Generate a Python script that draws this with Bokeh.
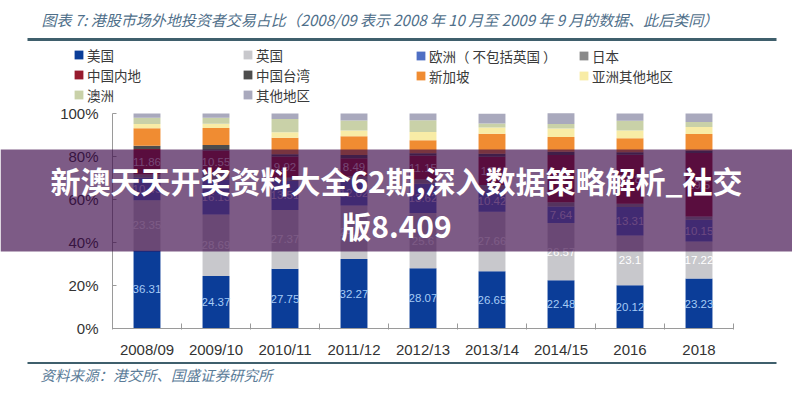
from bokeh.plotting import figure
from bokeh.models import (ColumnDataSource, Range1d, LinearAxis, FixedTicker, Label,
                          BoxAnnotation, Legend, LegendItem, PrintfTickFormatter)
from bokeh.embed import file_html
from bokeh.resources import INLINE
from bokeh.core.properties import value

# ---------------- data ----------------
categories = ["2008/09", "2009/10", "2010/11", "2011/12", "2012/13",
              "2013/14", "2014/15", "2016", "2018"]
series_names = ["美国", "英国", "欧洲（ 不包括英国 ）", "日本", "中国内地", "中国台湾",
                "新加坡", "亚洲其他地区", "澳洲", "其他地区"]
us = [36.31, 24.37, 27.75, 32.27, 28.07, 26.65, 22.48, 20.12, 23.23]
uk = [23.35, 28.69, 27.37, 24.93, 25.6, 27.66, 26.57, 23.1, 17.22]
europe = [10.45, 16.13, 13.51, 12.02, 13.62, 10.42, 7.64, 13.31, 10.15]
japan = [1.5, 3.0, 1.5, 1.5, 2.0, 2.0, 2.0, 1.5, 1.5]
mainland = [11.86, 10.55, 9.92, 8.49, 11.15, 13.1, 22.0, 22.8, 29.5]
taiwan = [1.5, 2.6, 1.0, 1.5, 1.1, 1.5, 1.5, 1.2, 1.2]
singapore = [8.2, 7.9, 7.65, 8.7, 6.0, 9.2, 6.9, 6.5, 7.7]
asia_other = [2.0, 2.0, 2.6, 2.7, 3.9, 3.0, 3.9, 3.6, 3.2]
australia = [2.9, 2.8, 6.2, 4.6, 5.4, 1.8, 2.1, 4.5, 2.3]
others = [1.9, 2.0, 2.5, 3.3, 3.2, 4.6, 5.0, 3.4, 4.0]
y_ticks = [0, 20, 40, 60, 80, 100]

title_text = "图表 7: 港股市场外地投资者交易占比（2008/09 表示 2008 年 10 月至 2009 年 9 月的数据、此后类同）"
source_text = "资料来源：港交所、国盛证券研究所"
banner_line1 = "新澳天天开奖资料大全62期,深入数据策略解析_社交"
banner_line2 = "版8.409"

keys = ["us", "uk", "europe", "japan", "mainland", "taiwan", "singapore",
        "asia_other", "australia", "others"]
values = [us, uk, europe, japan, mainland, taiwan, singapore, asia_other, australia, others]
colors = ["#0b3d98", "#c8c8cc", "#4f6fc4", "#8a8a8a", "#961b2e", "#4d4d4d",
          "#f08c32", "#f8eca6", "#c9d1a8", "#a9a9bd"]

# ---------------- pixel <-> data helpers (frame == whole canvas) ----------------
W, H = 792, 400
X0, XU = 112.0, 69.0      # px of x=0, px per category
Y0, YU = 328.0, 2.15      # px (from top) of y=0, px per percent


def px(xp):
    return (xp - X0) / XU


def py(yp):
    return (Y0 - yp) / YU


n = len(categories)
xs = [i + 0.5 for i in range(n)]

data = {"x": xs}
for k, v in zip(keys, values):
    data[k] = v
source = ColumnDataSource(data)

p = figure(width=W, height=H, x_range=Range1d(px(0), px(W)), y_range=Range1d(py(H), py(0)),
           toolbar_location=None, output_backend="svg", x_axis_location=None,
           y_axis_location=None, min_border=0)
p.outline_line_color = None
p.background_fill_color = "white"
p.border_fill_color = "white"
for g in p.grid:
    g.visible = False

renderers = p.vbar_stack(keys, x="x", width=0.39, source=source,
                         fill_color=colors, line_color=None)

# ---------------- axes ----------------
yaxis = LinearAxis(fixed_location=0, bounds=(0, 100), ticker=FixedTicker(ticks=y_ticks),
                   formatter=PrintfTickFormatter(format="%d%%"))
yaxis.axis_line_color = "#9a9a9a"
yaxis.major_tick_line_color = "#9a9a9a"
yaxis.major_tick_in = 4
yaxis.major_tick_out = 0
yaxis.minor_tick_line_color = None
yaxis.major_label_text_font = "Liberation Sans"
yaxis.major_label_text_font_size = "15px"
yaxis.major_label_text_color = "#333333"
yaxis.major_label_standoff = 14
p.add_layout(yaxis, "left")

boundaries = [float(i) for i in range(n + 1)]
xaxis = LinearAxis(fixed_location=0, bounds=(0, n),
                   ticker=FixedTicker(ticks=xs, minor_ticks=boundaries),
                   major_label_overrides={x: c for x, c in zip(xs, categories)})
xaxis.axis_line_color = "#9a9a9a"
xaxis.major_tick_line_color = None
xaxis.minor_tick_line_color = "#9a9a9a"
xaxis.minor_tick_in = 5
xaxis.minor_tick_out = 1
xaxis.major_label_text_font = "Liberation Sans"
xaxis.major_label_text_font_size = "15px"
xaxis.major_label_text_color = "#333333"
xaxis.major_label_standoff = 6
p.add_layout(xaxis, "below")

# ---------------- data labels ----------------
label_series = {"us": "#a6cbf5", "uk": "#ffffff", "europe": "#cfcbee", "mainland": "#e8c3cd"}
cum = [0.0] * n
for k, v in zip(keys, values):
    bottoms = cum[:]
    cum = [c + val for c, val in zip(cum, v)]
    if k in label_series:
        mids = [(b + t) / 2 for b, t in zip(bottoms, cum)]
        texts = [f"{val:g}" for val in v]
        src = ColumnDataSource({"x": xs, "y": mids, "t": texts})
        p.text(x="x", y="y", text="t", source=src, text_align="center",
               text_baseline="middle", text_font=value("Liberation Sans"),
               text_font_size="11.5px", text_color=label_series[k])

# ---------------- legend (4 columns) ----------------
col_members = [[0, 4, 8], [1, 5, 9], [2, 6], [3, 7]]
col_x = [73, 242, 415, 578]
row_h = 19
legend_top = 47.5
for cx, members in zip(col_x, col_members):
    items = [LegendItem(label=series_names[i], renderers=[renderers[i]]) for i in members]
    bottom_px = legend_top + row_h * len(members)
    leg = Legend(items=items, location=(cx, H - bottom_px), orientation="vertical",
                 glyph_width=11, glyph_height=11, label_standoff=3, label_height=row_h,
                 spacing=0, padding=0, margin=0, border_line_color=None,
                 background_fill_alpha=0, label_text_font="Noto Sans CJK SC",
                 label_text_font_size="13.5px", label_text_color="#3a3a3a")
    p.add_layout(leg, "center")

# ---------------- title, rules, source ----------------
p.add_layout(Label(x=px(41), y=py(18.5), text=title_text, text_align="left",
                   text_baseline="middle", text_font="Noto Sans CJK SC",
                   text_font_style="italic", text_font_size="15px",
                   text_color="#4f6f8a"))
p.add_layout(BoxAnnotation(left=px(27), right=px(776), top=py(37.5), bottom=py(40.5),
                           fill_color="#3f5f6c", fill_alpha=1, line_color=None))
p.add_layout(BoxAnnotation(left=px(27), right=px(776), top=py(361.5), bottom=py(363.5),
                           fill_color="#3f5f6c", fill_alpha=1, line_color=None))
p.add_layout(Label(x=px(40), y=py(374), text=source_text, text_align="left",
                   text_baseline="middle", text_font="Noto Sans CJK SC",
                   text_font_style="italic", text_font_size="14.5px",
                   text_color="#5b7c98"))

# ---------------- overlay banner ----------------
p.add_layout(BoxAnnotation(top=py(149), bottom=py(251), fill_color="#3a0648",
                           fill_alpha=0.66, line_color=None, level="overlay"))
for txt, yy in [(banner_line1, 179), (banner_line2, 224)]:
    p.add_layout(Label(x=px(396), y=py(yy), text=txt, text_align="center",
                       text_baseline="middle", text_font="Noto Sans CJK SC",
                       text_font_style="bold", text_font_size="30px",
                       text_color="white", level="overlay"))

open("out.html", "w").write(file_html(p, INLINE))
